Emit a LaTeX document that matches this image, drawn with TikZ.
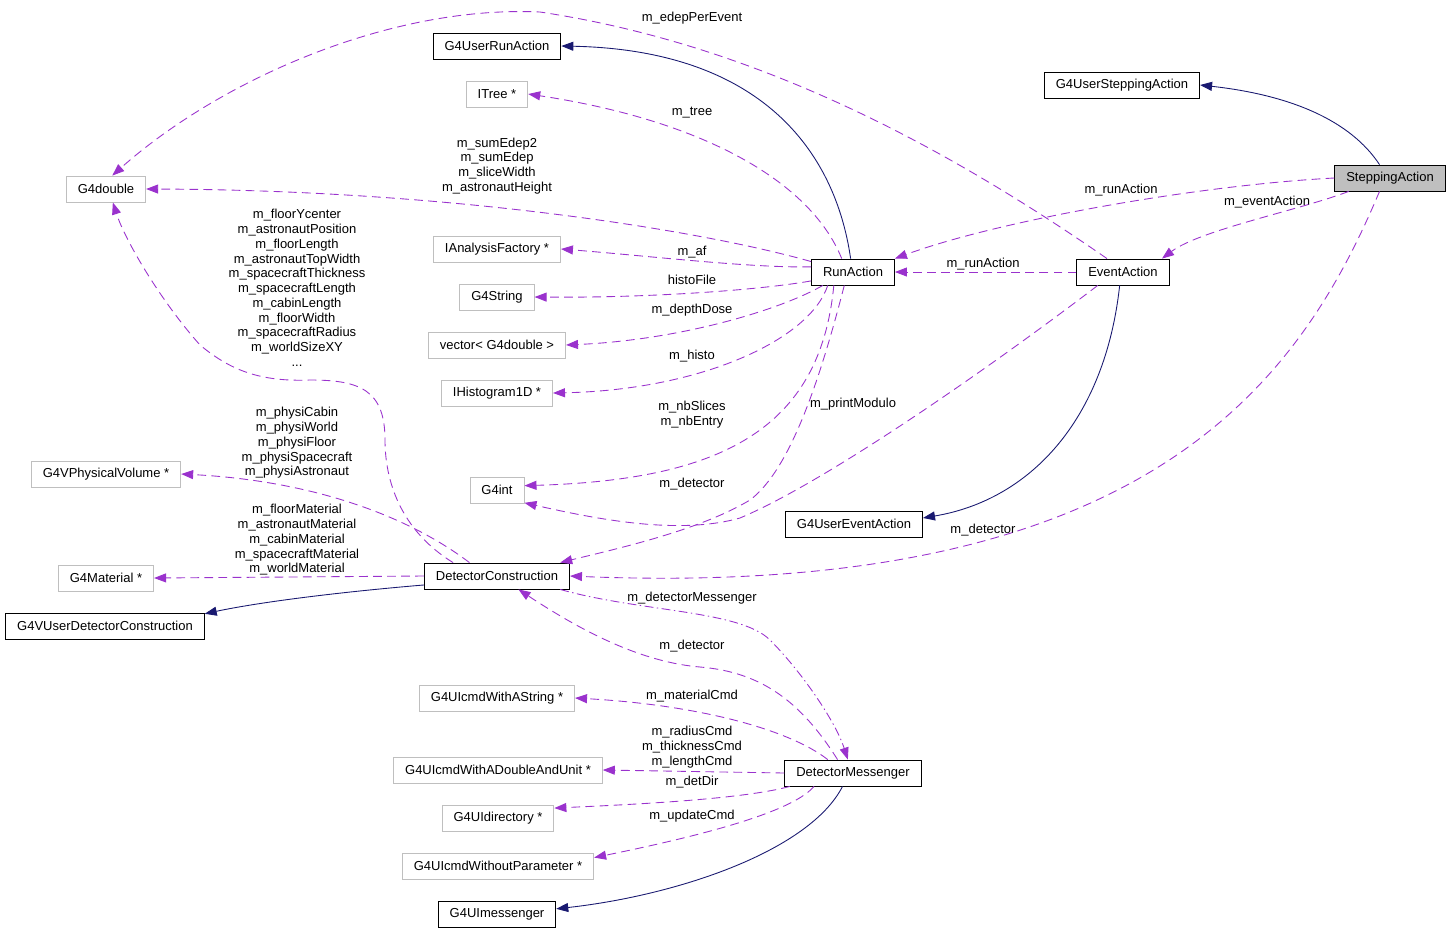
\documentclass[tikz,border=0pt]{standalone}
\usepackage{fontspec}
\setmainfont{Liberation Sans}
\usetikzlibrary{arrows.meta}
\definecolor{navy}{HTML}{191970}
\definecolor{usecol}{HTML}{9A32CD}
\definecolor{extgray}{HTML}{BFBFBF}

\begin{document}
\begin{tikzpicture}[
  x=0.02cm, y=-0.02cm,
  every node/.style={font=\fontsize{7.4}{8.4}\selectfont},
  cls/.style={draw=black, fill=white, line width=0.5pt, inner xsep=0.23cm, inner ysep=0pt, minimum height=0.52cm},
  ext/.style={cls, draw=extgray},
  cur/.style={cls, fill=extgray},
  lbl/.style={align=center, inner sep=0pt},
  inh/.style={color=navy, line width=0.5pt, -{Triangle[length=0.24cm, width=0.18cm]}},
  use/.style={color=usecol, line width=0.5pt, dash pattern=on 5pt off 3pt, -{Triangle[length=0.24cm, width=0.18cm]}}
]
\useasboundingbox (0,0) rectangle (1451,931);

% Nodes
\node[cur] (sa) at (1390,178) {SteppingAction};
\node[cls] (g4usa) at (1122,85) {G4UserSteppingAction};
\node[cls] (ra) at (853,272) {RunAction};
\node[cls] (ea) at (1123,272) {EventAction};
\node[cls] (g4ura) at (497,46) {G4UserRunAction};
\node[cls] (g4uea) at (854,524) {G4UserEventAction};
\node[cls] (dc) at (497,576) {DetectorConstruction};
\node[cls] (g4vudc) at (105,626) {G4VUserDetectorConstruction};
\node[cls] (dm) at (853,773) {DetectorMessenger};
\node[cls] (uimsg) at (497,914) {G4UImessenger};

\node[ext] (itree) at (497,94) {ITree *};
\node[ext] (g4dbl) at (106,189) {G4double};
\node[ext] (iaf) at (497,249) {IAnalysisFactory *};
\node[ext] (g4str) at (497,297) {G4String};
\node[ext] (vecd) at (497,345) {vector< G4double >};
\node[ext] (ihist) at (497,393) {IHistogram1D *};
\node[ext] (g4int) at (497,490) {G4int};
\node[ext] (g4pv) at (106,474) {G4VPhysicalVolume *};
\node[ext] (g4mat) at (106,578) {G4Material *};
\node[ext] (cmdstr) at (497,698) {G4UIcmdWithAString *};
\node[ext] (cmddbl) at (498,770) {G4UIcmdWithADoubleAndUnit *};
\node[ext] (uidir) at (498,818) {G4UIdirectory *};
\node[ext] (cmdnop) at (498,866) {G4UIcmdWithoutParameter *};

% Labels
\node[lbl] (l_edep) at (692,18) {m\_edepPerEvent};
\node[lbl] (l_tree) at (692,113) {m\_tree};
\node[lbl] (l_sums) at (497,166) {m\_sumEdep2\\m\_sumEdep\\m\_sliceWidth\\m\_astronautHeight};
\node[lbl] (l_af) at (692,252) {m\_af};
\node[lbl] (l_histofile) at (692,280) {histoFile};
\node[lbl] (l_dose) at (692,310) {m\_depthDose};
\node[lbl] (l_histo) at (692,356) {m\_histo};
\node[lbl] (l_nb) at (692,415) {m\_nbSlices\\m\_nbEntry};
\node[lbl] (l_print) at (853,404) {m\_printModulo};
\node[lbl] (l_radet) at (692,484) {m\_detector};
\node[lbl] (l_sarun) at (1121,190) {m\_runAction};
\node[lbl] (l_saevt) at (1267,202) {m\_eventAction};
\node[lbl] (l_earun) at (983,264) {m\_runAction};
\node[lbl] (l_sadet) at (983,530) {m\_detector};
\node[lbl] (l_geom) at (297,288) {m\_floorYcenter\\m\_astronautPosition\\m\_floorLength\\m\_astronautTopWidth\\m\_spacecraftThickness\\m\_spacecraftLength\\m\_cabinLength\\m\_floorWidth\\m\_spacecraftRadius\\m\_worldSizeXY\\...};
\node[lbl] (l_physi) at (297,443) {m\_physiCabin\\m\_physiWorld\\m\_physiFloor\\m\_physiSpacecraft\\m\_physiAstronaut};
\node[lbl] (l_mat) at (297,540) {m\_floorMaterial\\m\_astronautMaterial\\m\_cabinMaterial\\m\_spacecraftMaterial\\m\_worldMaterial};
\node[lbl] (l_dcmsg) at (692,598) {m\_detectorMessenger};
\node[lbl] (l_dmdet) at (692,646) {m\_detector};
\node[lbl] (l_matcmd) at (692,696) {m\_materialCmd};
\node[lbl] (l_dblcmd) at (692,747) {m\_radiusCmd\\m\_thicknessCmd\\m\_lengthCmd};
\node[lbl] (l_dir) at (692,782) {m\_detDir};
\node[lbl] (l_upd) at (692,816) {m\_updateCmd};

% Arrows
\draw[inh] (ra.100) .. controls (835,150) and (760,50) .. (g4ura.east);
\draw[inh] (sa.128) .. controls (1350,120) and (1290,95) .. (g4usa.east);
\draw[inh] (ea.256) .. controls (1105,420) and (1030,500) .. (g4uea.5);
\draw[inh] (dc.187) .. controls (340,592) and (260,602) .. (g4vudc.7);
\draw[inh] (dm.232) .. controls (810,850) and (680,895) .. (uimsg.5);

\draw[use] (ea.140) .. controls (950,150) and (760,45) .. (540,12) .. controls (390,5) and (220,80) .. (g4dbl.65);
\draw[use] (ra.130) .. controls (810,180) and (700,120) .. (itree.east);
\draw[use] (ra.166) .. controls (700,230) and (450,190) .. (g4dbl.east);
\draw[use] (ra.173) .. controls (750,268) and (650,256) .. (iaf.east);
\draw[use] (ra.192) .. controls (760,290) and (650,298) .. (g4str.east);
\draw[use] (ra.204) .. controls (780,310) and (680,340) .. (vecd.east);
\draw[use] (ra.208) .. controls (810,340) and (700,390) .. (ihist.east);
\draw[use] (ra.215) .. controls (820,430) and (720,480) .. (g4int.9);
\draw[use] (ra.237) .. controls (820,380) and (790,470) .. (750,500) .. controls (700,530) and (620,548) .. (dc.12);
\draw[use] (ea.208) .. controls (1000,360) and (830,480) .. (740,518) .. controls (680,535) and (600,520) .. (g4int.335);
\draw[use] (sa.west) .. controls (1200,185) and (1000,220) .. (ra.north east);
\draw[use] (sa.198) .. controls (1300,210) and (1200,230) .. (ea.19);
\draw[use] (ea.west) -- (ra.east);
\draw[use] (sa.232) .. controls (1300,380) and (1150,600) .. (dc.east);
\draw[use] (dc.163) .. controls (400,530) and (385,480) .. (385,440) .. controls (385,390) and (360,380) .. (310,380) .. controls (260,382) and (230,370) .. (200,345) .. controls (160,300) and (125,240) .. (g4dbl.297);
\draw[use] (dc.154) .. controls (400,510) and (300,480) .. (g4pv.east);
\draw[use] (dc.west) -- (g4mat.east);
\draw[use] (dm.139) .. controls (800,700) and (760,672) .. (700,667) .. controls (640,662) and (580,630) .. (dc.328);
\draw[use, dash pattern=on 5pt off 2pt on 0.8pt off 2pt] (dc.348) .. controls (640,612) and (740,610) .. (770,640) .. controls (800,670) and (835,720) .. (dm.111);
\draw[use] (dm.152) .. controls (790,730) and (700,705) .. (cmdstr.east);
\draw[use] (dm.west) -- (cmddbl.east);
\draw[use] (dm.192) .. controls (740,800) and (620,805) .. (uidir.10);
\draw[use] (dm.199) .. controls (790,815) and (680,840) .. (cmdnop.5);

\end{tikzpicture}
\end{document}
